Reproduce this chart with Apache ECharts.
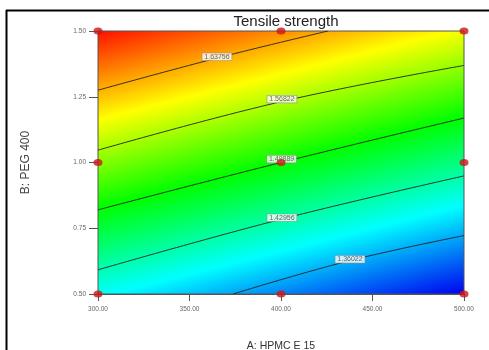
<!DOCTYPE html>
<html>
<head>
<meta charset="utf-8">
<script src="https://cdn.jsdelivr.net/npm/echarts@6/dist/echarts.min.js"></script>
<style>
  html, body { margin: 0; padding: 0; background: #fff; }
  #chart { width: 489px; height: 350px; }
</style>
</head>
<body>
<div id="chart"></div>
<script>
// Axis ranges and ticks
const xTicks = [300, 350, 400, 450, 500];
const yTicks = [0.5, 0.75, 1.0, 1.25, 1.5];

// Contour levels of the response and the traced course of each line
const contourLevels = [1.63756, 1.56822, 1.49889, 1.42956, 1.36022];
const contourLine1 = [[300, 1.275], [365, 1.397], [425.7, 1.5]];
const contourLine2 = [[300, 1.047], [400.5, 1.232], [500, 1.369]];
const contourLine3 = [[300, 0.820], [400, 1.0], [500, 1.169]];
const contourLine4 = [[300, 0.592], [400.5, 0.785], [500, 0.949]];
const contourLine5 = [[373.8, 0.5], [437.7, 0.627], [500, 0.722]];

// Where each level's tag sits
const labelAnchors = [[365, 1.402], [400.5, 1.241], [400.3, 1.013], [400.5, 0.790], [437.7, 0.632]];

// Design points (A: HPMC E 15, B: PEG 400)
const designA = [300, 400, 500, 300, 400, 500, 300, 400, 500];
const designB = [0.5, 0.5, 0.5, 1.0, 1.0, 1.0, 1.5, 1.5, 1.5];

// Response at the bottom-right and top-left corners of the region
const fieldMin = 1.293;
const fieldMax = 1.706;
// Colour ramp from low to high response
const rampColors = ['#0000f0', '#00ffff', '#00ff00', '#ffff00', '#ff1000'];

const contourLines = [contourLine1, contourLine2, contourLine3, contourLine4, contourLine5];
const fmt = (v) => v.toFixed(5);

const chart = echarts.init(document.getElementById('chart'));

// colour stops along the gradient: offset 0 = high end, 1 = low end
const stops = rampColors.map((c, i) => {
  const v = fieldMin + (i / (rampColors.length - 1)) * (fieldMax - fieldMin);
  return { offset: (fieldMax - v) / (fieldMax - fieldMin), color: c };
}).sort((a, b) => a.offset - b.offset);

const series = [];

// shaded response field
series.push({
  type: 'custom',
  silent: true,
  z: 1,
  clip: true,
  data: [[xTicks[0], yTicks[yTicks.length - 1], xTicks[xTicks.length - 1], yTicks[0]]],
  renderItem(params, api) {
    const tl = api.coord([api.value(0), api.value(1)]);
    const br = api.coord([api.value(2), api.value(3)]);
    const a = api.coord(contourLine3[0]);
    const b = api.coord(contourLine3[2]);
    const dx = b[0] - a[0], dy = b[1] - a[1];
    const len = Math.hypot(dx, dy);
    const nx = -dy / len, ny = dx / len;
    const proj = (br[0] - tl[0]) * nx + (br[1] - tl[1]) * ny;
    return {
      type: 'rect',
      shape: { x: tl[0], y: tl[1], width: br[0] - tl[0], height: br[1] - tl[1] },
      style: {
        fill: {
          type: 'linear', global: true,
          x: tl[0], y: tl[1], x2: tl[0] + nx * proj, y2: tl[1] + ny * proj,
          colorStops: stops
        }
      }
    };
  }
});

// contour lines
contourLines.forEach((pts, i) => {
  series.push({
    type: 'line',
    name: fmt(contourLevels[i]),
    data: pts,
    smooth: 0.4,
    showSymbol: false,
    silent: true,
    z: 3,
    lineStyle: { color: '#222', width: 0.9 }
  });
});

// level tags
series.push({
  type: 'scatter',
  silent: true,
  z: 4,
  symbolSize: 0,
  data: labelAnchors.map((p, i) => ({ value: p, name: fmt(contourLevels[i]) })),
  label: {
    show: true,
    position: 'inside',
    formatter: (p) => p.name,
    fontSize: 7,
    lineHeight: 7,
    color: '#444',
    fontFamily: 'Liberation Sans, Arial, sans-serif',
    backgroundColor: '#fff',
    borderColor: '#888',
    borderWidth: 0.6,
    padding: [0, 2]
  }
});

// design points
series.push({
  type: 'scatter',
  z: 5,
  symbol: 'circle',
  symbolSize: [9, 7],
  itemStyle: { color: '#cc1616' },
  data: designA.map((a, i) => [a, designB[i]])
});

const axisText = { fontSize: 6.5, color: '#666', fontFamily: 'Liberation Sans, Arial, sans-serif' };

chart.setOption({
  animation: false,
  title: {
    text: 'Tensile strength',
    left: 281,
    top: 9,
    textAlign: 'center',
    textStyle: { fontSize: 15, fontWeight: 'normal', color: '#222', fontFamily: 'Liberation Sans, Arial, sans-serif' }
  },
  grid: { left: 98, top: 31, width: 366, height: 263, containLabel: false, outerBoundsMode: 'none' },
  xAxis: {
    type: 'value',
    min: xTicks[0], max: xTicks[xTicks.length - 1], interval: 50,
    name: 'A: HPMC E 15',
    nameLocation: 'middle',
    nameGap: 47,
    nameTextStyle: { fontSize: 10.5, color: '#333', fontFamily: 'Liberation Sans, Arial, sans-serif' },
    axisLine: { show: true, lineStyle: { color: '#555', width: 1 } },
    axisTick: { show: true, length: 7, lineStyle: { color: '#555' } },
    axisLabel: Object.assign({ margin: 12, formatter: (v) => v.toFixed(2) }, axisText),
    splitLine: { show: false }
  },
  yAxis: {
    type: 'value',
    min: yTicks[0], max: yTicks[yTicks.length - 1], interval: 0.25,
    name: 'B: PEG 400',
    nameLocation: 'middle',
    nameRotate: 90,
    nameGap: 66,
    nameTextStyle: { fontSize: 12, color: '#444', fontFamily: 'Liberation Sans, Arial, sans-serif' },
    axisLine: { show: true, lineStyle: { color: '#555', width: 1 } },
    axisTick: { show: true, length: 9, lineStyle: { color: '#555' } },
    axisLabel: Object.assign({ margin: 12, formatter: (v) => v.toFixed(2) }, axisText),
    splitLine: { show: false }
  },
  graphic: [
    { type: 'line', shape: { x1: 6, y1: 10.5, x2: 489, y2: 10.5 }, style: { stroke: '#000', lineWidth: 2 } },
    { type: 'line', shape: { x1: 6.5, y1: 10, x2: 6.5, y2: 350 }, style: { stroke: '#000', lineWidth: 2 } },
    { type: 'rect', shape: { x: 98, y: 31, width: 366, height: 263 }, style: { fill: 'none', stroke: '#555', lineWidth: 1 }, z: 2 }
  ],
  series: series
});
</script>
</body>
</html>
